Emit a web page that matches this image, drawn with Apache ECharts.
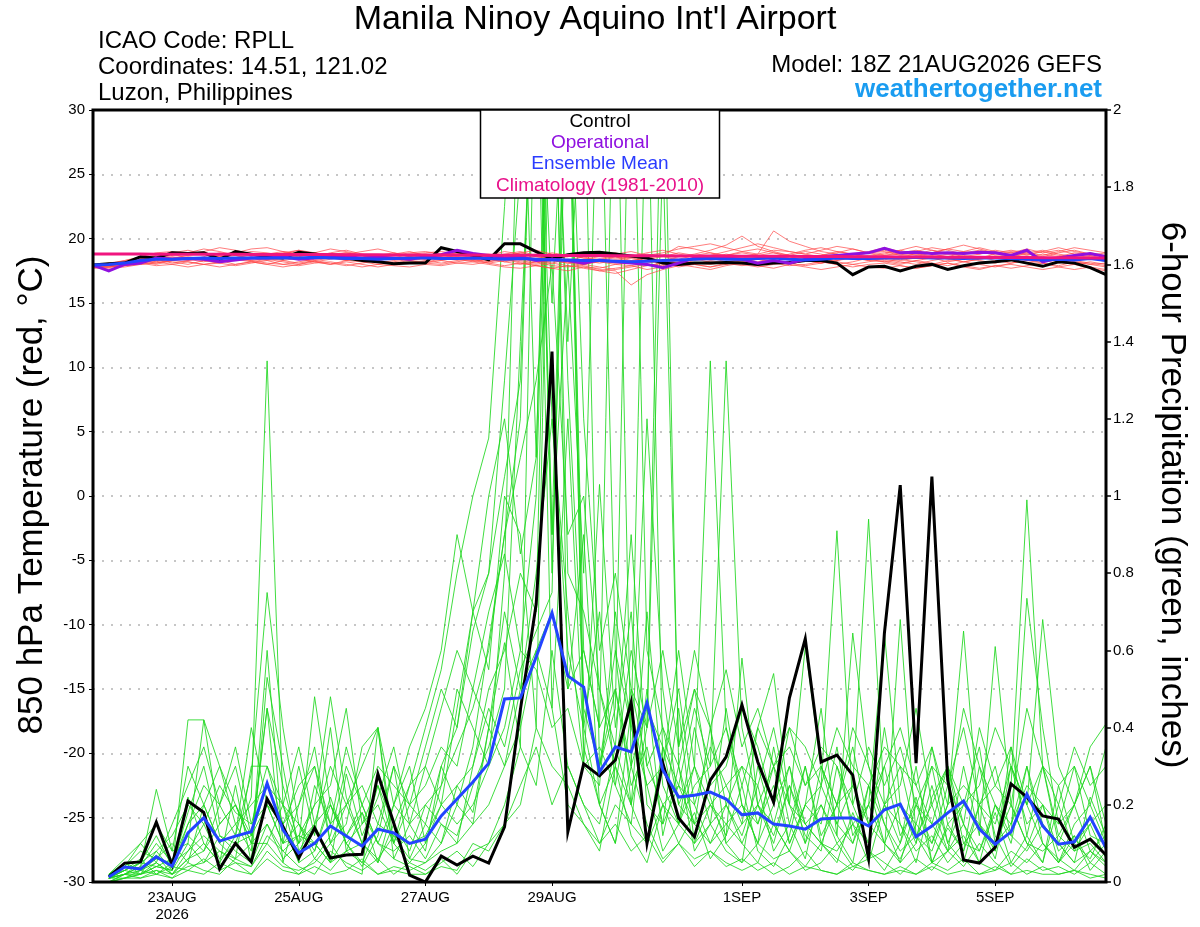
<!DOCTYPE html>
<html><head><meta charset="utf-8">
<script src="https://cdn.jsdelivr.net/npm/echarts@6/dist/echarts.min.js"></script>
<style>html,body{margin:0;padding:0;background:#fff}#c{width:1200px;height:927px}</style>
</head><body><div id="c"></div>
<script>
const FONT = '"Liberation Sans", Arial, Helvetica, sans-serif';

// ---- time axis (6-hourly, 21AUG2026 18Z .. 06SEP2026 18Z) ----
const MON = ['JAN','FEB','MAR','APR','MAY','JUN','JUL','AUG','SEP','OCT','NOV','DEC'];
const startUTC = Date.UTC(2026, 7, 21, 18);
const categories = [];
for (let i = 0; i < 65; i++) {
  const d = new Date(startUTC + i * 6 * 3600e3);
  categories.push(d.getUTCDate() + MON[d.getUTCMonth()] + String(d.getUTCHours()).padStart(2, '0') + 'Z');
}
const dateTicks = ['23AUG00Z', '25AUG00Z', '27AUG00Z', '29AUG00Z', '1SEP00Z', '3SEP00Z', '5SEP00Z'];
const dateTickLabels = ['23AUG\n2026', '25AUG', '27AUG', '29AUG', '1SEP', '3SEP', '5SEP'];

// ---- 850 hPa temperature (°C), 65 steps from 21AUG 18Z ----
const controlTemp = [17.95,
  18.05,18.1,18.6,18.5,18.9,18.85,18.9,18.4,19.0,18.8,
  18.6,18.5,18.95,18.8,18.6,18.5,18.3,18.2,18.05,18.1,
  18.1,19.3,19.0,18.7,18.35,19.6,19.6,19.0,18.42,18.75,
  18.9,18.95,18.8,18.65,18.5,18.1,18.0,18.1,18.1,18.15,
  18.1,18.0,18.1,18.15,18.3,18.3,18.1,17.2,17.8,17.85,
  17.5,17.85,18.0,17.6,17.9,18.1,18.2,18.35,18.1,17.85,
  18.2,18.1,17.75,17.2];
const operationalTemp = [17.95,
  17.5,18.0,18.1,18.5,18.4,18.45,18.4,18.2,18.35,18.5,
  18.5,18.6,18.4,18.5,18.55,18.6,18.5,18.55,18.5,18.4,
  18.6,18.75,19.1,18.85,18.7,18.5,18.6,18.3,18.4,18.3,
  18.1,18.35,18.2,18.1,18.0,17.75,18.1,18.5,18.6,18.5,
  18.4,18.1,18.3,18.1,18.4,18.6,18.7,18.8,18.9,19.25,
  18.9,18.95,18.85,18.9,18.85,18.95,18.9,18.7,19.1,18.2,
  18.5,18.7,18.85,18.6];
const meanTemp = [17.95,
  18.0,18.1,18.3,18.4,18.4,18.45,18.5,18.45,18.5,18.5,
  18.5,18.5,18.5,18.55,18.5,18.45,18.45,18.4,18.45,18.5,
  18.5,18.45,18.45,18.5,18.45,18.4,18.45,18.4,18.35,18.35,
  18.3,18.3,18.25,18.2,18.25,18.3,18.35,18.4,18.45,18.4,
  18.4,18.45,18.5,18.4,18.35,18.4,18.5,18.45,18.45,18.5,
  18.5,18.55,18.5,18.5,18.45,18.5,18.5,18.45,18.4,18.35,
  18.4,18.35,18.45,18.3];
const climoTemp = [18.80,
  18.80,18.80,18.80,18.79,18.79,18.79,18.78,18.78,18.78,18.77,
  18.77,18.77,18.76,18.76,18.76,18.75,18.75,18.75,18.74,18.74,
  18.74,18.73,18.73,18.73,18.72,18.72,18.71,18.71,18.70,18.70,
  18.69,18.69,18.68,18.68,18.67,18.67,18.66,18.66,18.65,18.65,
  18.64,18.64,18.63,18.63,18.62,18.62,18.61,18.60,18.60,18.59,
  18.58,18.58,18.57,18.56,18.56,18.55,18.54,18.54,18.53,18.52,
  18.52,18.51,18.50,18.50];

// ensemble member temperatures (65 steps)
const memberTemp01 = [17.85, 17.9,18.0,18.4,18.6,18.5,18.7,18.9,18.6,18.8,19.0, 18.9,18.7,18.6,18.8,18.5,18.4,18.6,18.7,18.9,18.6, 18.4,18.5,18.7,18.6,18.3,18.5,18.4,18.2,18.3,18.1, 18.4,18.6,18.8,19.0,18.7,18.9,19.2,19.4,19.6,19.3, 19.0,18.8,20.6,19.8,19.4,19.0,18.8,18.6,18.9,19.0, 18.7,18.8,19.1,18.9,18.6,18.8,19.0,18.7,18.5,18.8, 18.6,18.9,18.7,18.4];
const memberTemp02 = [17.75, 17.8,17.9,18.1,18.3,18.2,18.0,18.3,18.2,18.5,18.3, 18.1,18.0,18.2,18.4,18.6,18.3,18.2,18.0,18.2,18.4, 18.5,18.3,18.1,18.0,18.2,18.4,18.2,18.0,18.3,18.1, 17.9,17.6,17.5,16.4,17.2,17.6,17.9,18.1,18.0,18.2, 18.3,18.1,18.4,18.6,18.3,18.1,18.4,18.6,18.3,18.2, 18.0,18.3,18.5,18.2,18.4,18.6,18.3,18.1,18.3,18.5, 18.2,18.0,18.2,18.0];
const memberTemp03 = [17.95, 18.0,18.2,18.5,18.7,18.9,19.1,18.8,18.6,18.9,19.2, 19.3,19.0,18.8,18.6,18.9,19.1,18.8,18.6,18.5,18.8, 18.9,19.0,18.8,18.6,18.7,19.0,18.8,18.6,18.9,18.7, 18.5,18.4,18.6,18.5,18.8,18.6,18.4,18.7,18.9,18.6, 18.5,18.7,18.9,18.6,18.4,18.7,18.9,19.2,18.9,18.7, 18.8,19.0,19.3,19.1,18.8,19.0,18.7,18.9,19.2,18.9, 19.1,18.8,18.6,18.5];
const memberTemp04 = [17.7, 17.7,17.8,18.0,18.2,18.0,17.8,18.0,18.1,17.9,18.1, 18.3,18.0,17.9,18.1,18.2,18.0,17.8,18.0,17.9,17.8, 18.0,17.9,18.1,18.2,18.0,17.8,17.7,17.9,18.1,17.9, 17.8,17.7,18.0,18.2,17.9,18.1,18.3,18.0,17.8,18.0, 18.2,18.4,18.1,17.9,18.0,18.2,18.0,17.8,18.0,18.1, 17.9,17.7,17.9,18.1,17.8,17.6,17.9,18.0,17.8,17.6, 17.8,18.0,17.7,17.5];
const memberTemp05 = [17.95, 18.1,18.3,18.6,18.4,18.7,18.9,19.2,19.0,18.7,18.5, 18.8,19.0,18.8,18.6,18.8,18.9,18.7,18.5,18.8,19.0, 18.7,18.5,18.8,18.9,18.6,18.4,18.6,18.8,18.5,18.3, 18.6,18.8,18.6,18.3,18.5,18.7,19.4,19.2,18.9,18.7, 19.0,19.2,18.9,18.7,19.0,18.8,18.5,18.7,19.0,19.3, 19.0,18.7,18.9,19.2,19.0,18.8,19.1,18.9,18.7,19.0, 19.3,19.0,18.8,18.6];
const memberTemp06 = [17.8, 17.8,18.0,18.2,18.0,18.3,18.5,18.3,18.1,18.4,18.2, 18.0,18.3,18.5,18.2,18.0,18.3,18.5,18.3,18.1,18.3, 18.6,18.8,18.5,18.3,18.5,18.2,18.0,18.2,17.9,17.8, 18.0,18.2,18.0,17.9,18.1,18.3,18.1,18.4,18.2,18.0, 18.3,18.5,18.2,18.0,18.3,18.5,18.2,18.0,18.2,18.4, 18.2,18.0,18.3,18.5,18.2,18.4,18.6,18.3,18.1,18.3, 18.5,18.2,18.0,18.1];
const memberTemp07 = [17.85, 17.9,18.1,18.3,18.5,18.8,18.5,18.4,18.7,19.0,18.8, 18.6,18.4,18.6,18.9,19.2,19.0,18.7,18.5,18.4,18.6, 18.8,18.6,18.4,18.3,18.1,18.3,18.5,18.3,18.1,18.4, 18.3,18.1,18.3,18.5,18.3,18.0,18.2,18.5,18.7,19.0, 19.3,19.6,19.3,19.0,18.8,18.6,18.8,18.5,18.7,18.9, 19.1,18.8,18.6,18.8,19.0,19.3,19.0,18.7,18.9,19.1, 18.8,18.6,18.9,18.7];
const memberTemp08 = [17.75, 17.8,17.9,18.0,18.1,18.3,18.2,18.0,18.2,18.4,18.6, 18.4,18.2,18.0,18.3,18.1,17.9,18.1,18.3,18.5,18.3, 18.1,18.3,18.5,18.7,18.4,18.2,18.4,18.6,18.4,18.2, 18.0,17.8,17.6,17.8,18.0,17.9,18.2,18.0,17.8,18.1, 18.0,17.8,18.0,18.2,18.4,18.2,18.0,18.2,18.5,18.3, 18.1,18.3,18.1,17.9,18.2,18.0,17.8,18.1,18.3,18.1, 17.9,18.2,18.0,17.8];
const memberTemp09 = [17.9, 18.0,18.2,18.4,18.2,18.5,18.3,18.6,18.9,18.7,18.4, 18.7,18.9,19.1,18.8,18.6,18.8,19.0,19.2,18.9,18.7, 18.5,18.7,18.9,18.7,18.8,18.6,18.9,19.1,18.8,18.6, 18.8,18.6,18.4,18.6,18.9,19.1,18.8,18.6,18.4,18.7, 18.9,18.7,18.5,18.8,19.1,19.3,19.0,18.8,18.6,18.8, 19.1,19.4,19.1,18.8,18.7,18.5,18.8,19.0,18.8,18.6, 18.9,19.1,18.8,18.6];
const memberTemp10 = [17.85, 17.9,18.0,18.2,18.4,18.1,18.3,18.5,18.3,18.0,18.2, 18.4,18.6,18.4,18.2,18.4,18.6,18.4,18.1,18.3,18.5, 18.3,18.1,18.3,18.5,18.7,18.4,18.1,17.9,17.7,17.5, 17.8,17.5,17.3,17.6,17.9,18.1,17.8,18.0,18.3,18.1, 17.9,18.1,18.3,18.1,17.9,18.1,18.3,18.6,18.4,18.2, 18.4,18.2,18.0,18.3,18.5,18.3,18.1,18.4,18.6,18.3, 18.1,18.3,18.1,17.9];
const memberTemp11 = [17.9, 18.0,18.3,18.5,18.3,18.6,18.4,18.2,18.5,18.7,18.5, 18.3,18.5,18.7,18.9,18.7,18.5,18.3,18.5,18.8,18.6, 18.4,18.6,18.4,18.2,18.4,18.7,18.9,18.6,18.4,18.6, 18.9,18.7,18.5,18.7,18.5,18.3,18.6,18.8,19.1,19.5, 20.2,19.4,19.0,18.7,18.5,18.7,19.0,18.8,18.5,18.7, 18.9,19.1,18.8,18.6,18.9,19.1,18.9,18.6,18.8,19.0, 18.7,18.5,18.7,18.9];
const memberTemp12 = [17.8, 17.8,17.9,18.1,17.9,18.0,18.2,18.0,17.8,18.0,18.2, 18.0,17.8,18.0,18.2,18.0,18.2,18.0,17.8,18.0,18.2, 18.1,18.0,18.2,18.4,18.1,17.9,18.1,17.9,17.7,17.9, 17.7,17.5,17.7,17.9,17.6,17.8,18.0,17.8,17.6,17.9, 18.1,17.9,17.7,18.0,17.8,17.6,17.8,18.0,17.8,17.7, 17.9,17.7,17.9,18.1,17.9,17.7,17.9,17.7,17.9,18.1, 17.8,17.6,17.8,17.6];
const memberTemp13 = [17.95, 18.0,18.1,18.6,18.9,19.0,18.8,19.0,19.3,19.1,18.8, 18.6,18.8,19.1,18.9,18.7,18.9,18.7,18.5,18.7,18.9, 19.0,18.8,18.6,18.8,18.6,18.8,19.0,18.7,18.5,18.7, 18.5,18.7,18.9,18.6,18.4,18.6,18.9,18.7,18.5,18.8, 18.6,18.8,19.1,19.0,18.8,19.1,19.4,19.2,18.9,19.1, 18.8,18.6,18.9,19.2,19.5,19.2,18.9,19.1,18.9,18.7, 19.0,19.3,19.1,18.9];
const memberTemp14 = [17.85, 17.9,18.0,18.3,18.1,18.4,18.6,18.4,18.2,18.4,18.3, 18.5,18.3,18.1,18.3,18.5,18.3,18.5,18.7,18.5,18.3, 18.2,18.4,18.6,18.4,18.2,18.5,18.3,18.1,18.4,18.2, 18.0,18.3,18.1,18.3,18.5,18.2,18.0,18.3,18.5,18.2, 18.4,18.2,18.4,18.6,18.3,18.1,18.3,18.5,18.3,18.5, 18.3,18.5,18.7,18.4,18.2,18.4,18.6,18.8,18.5,18.3, 18.5,18.3,18.5,18.2];

// ---- 6-hour precipitation (inches), 64 periods ending 22AUG 00Z .. 6SEP 18Z ----
const controlPrecip = [
  0.013,0.049,0.052,0.155,0.044,0.21,0.18,0.034,0.10,0.052,
  0.215,0.143,0.062,0.14,0.062,0.07,0.072,0.28,0.153,0.018,
  0.0,0.067,0.044,0.067,0.049,0.143,0.446,0.72,1.374,0.13,
  0.306,0.275,0.316,0.466,0.10,0.308,0.166,0.117,0.264,0.324,
  0.459,0.311,0.207,0.477,0.63,0.311,0.329,0.277,0.062,0.645,
  1.028,0.308,1.05,0.264,0.057,0.049,0.09,0.254,0.22,0.171,
  0.163,0.09,0.111,0.07];
const meanPrecip = [
  0.013,0.039,0.034,0.065,0.041,0.127,0.166,0.106,0.119,0.13,
  0.256,0.135,0.075,0.10,0.145,0.119,0.093,0.137,0.127,0.10,
  0.111,0.171,0.215,0.259,0.308,0.474,0.477,0.583,0.697,0.534,
  0.505,0.285,0.35,0.337,0.464,0.29,0.22,0.225,0.233,0.215,
  0.174,0.179,0.15,0.145,0.137,0.163,0.166,0.166,0.145,0.187,
  0.202,0.117,0.145,0.179,0.21,0.137,0.098,0.13,0.228,0.145,
  0.098,0.104,0.168,0.088];

const memberPrecip01 = [0.01,0.03,0.05,0.12,0.04,0.18,0.30,0.12,0.10,0.22, 1.35,0.20,0.05,0.08,0.22,0.10,0.04,0.12,0.30,0.06, 0.05,0.10,0.25,0.18,0.40,0.62,0.35,2.30,0.45,0.20, 0.15,0.08,0.30,0.12,0.05,0.20,0.10,0.18,0.06,0.12, 0.25,0.08,0.04,0.12,0.30,0.10,0.05,0.18,0.08,0.03, 0.10,0.22,0.05,0.14,0.08,0.30,0.12,0.04,0.09,0.20, 0.05,0.12,0.03,0.08];
const memberPrecip02 = [0.00,0.02,0.04,0.24,0.08,0.10,0.42,0.30,0.15,0.08, 0.60,0.10,0.12,0.20,0.48,0.22,0.10,0.05,0.15,0.25, 0.40,0.55,0.80,1.00,1.15,1.75,2.40,1.10,2.60,0.50, 0.90,0.20,0.10,0.45,0.25,0.08,0.15,0.40,0.22,0.10, 0.05,0.30,0.15,0.08,0.20,0.45,0.12,0.05,0.25,0.10, 0.06,0.15,0.30,0.10,0.05,0.20,0.08,0.35,0.12,0.05, 0.20,0.08,0.15,0.06];
const memberPrecip03 = [0.02,0.05,0.02,0.08,0.03,0.42,0.42,0.15,0.20,0.12, 0.45,0.05,0.20,0.30,0.10,0.15,0.35,0.40,0.10,0.20, 0.15,0.30,0.20,0.35,0.62,0.90,1.20,2.50,0.80,2.20, 0.40,0.70,0.25,0.15,0.50,0.12,0.30,0.08,0.15,0.45, 0.20,0.10,0.35,0.15,0.06,0.25,0.91,0.20,0.10,0.40, 0.15,0.05,0.22,0.30,0.10,0.08,0.18,0.05,0.12,0.30, 0.10,0.05,0.22,0.12];
const memberPrecip04 = [0.01,0.01,0.03,0.05,0.02,0.06,0.10,0.05,0.25,0.05, 0.53,0.30,0.08,0.15,0.05,0.28,0.12,0.22,0.35,0.15, 0.30,0.20,0.45,0.70,0.55,1.00,0.90,0.40,2.40,1.40, 2.20,0.30,0.60,0.20,0.10,0.35,0.15,0.25,0.30,1.35, 0.40,0.20,0.10,0.25,0.12,0.08,0.30,0.15,0.05,0.20, 0.30,0.12,0.08,0.20,0.65,0.15,0.06,0.25,0.99,0.30, 0.12,0.20,0.08,0.05];
const memberPrecip05 = [0.00,0.01,0.02,0.04,0.06,0.12,0.08,0.20,0.35,0.15, 0.20,0.10,0.30,0.12,0.40,0.08,0.18,0.05,0.20,0.30, 0.10,0.25,0.50,0.40,0.30,0.80,2.30,2.40,1.20,0.70, 0.30,1.03,0.40,0.70,0.20,0.15,0.45,0.10,0.20,0.12, 0.58,0.20,0.15,0.30,0.10,0.20,0.12,0.645,0.30,0.15, 0.05,0.20,0.15,0.08,0.30,0.12,0.61,0.20,0.10,0.05, 0.25,0.10,0.06,0.15];
const memberPrecip06 = [0.02,0.04,0.08,0.06,0.10,0.05,0.20,0.10,0.06,0.30, 0.30,0.15,0.05,0.25,0.15,0.20,0.10,0.25,0.15,0.08, 0.20,0.15,0.10,0.30,0.50,0.60,0.80,0.70,2.50,2.30, 0.60,0.40,2.40,0.30,1.20,0.50,0.20,0.15,0.40,0.10, 0.15,0.40,0.54,0.20,0.10,0.30,0.15,0.25,0.94,0.20, 0.10,0.30,0.05,0.15,0.20,0.35,0.10,0.15,0.30,0.10, 0.05,0.15,0.20,0.10];
const memberPrecip07 = [0.01,0.02,0.01,0.03,0.02,0.04,0.05,0.08,0.05,0.04, 0.10,0.05,0.02,0.06,0.03,0.08,0.05,0.02,0.04,0.03, 0.05,0.08,0.10,0.15,0.20,0.30,0.40,0.60,0.45,1.20, 0.35,0.20,0.10,0.30,0.15,0.06,0.10,0.04,0.08,0.05, 0.03,0.05,0.02,0.04,0.08,0.03,0.02,0.05,0.03,0.02, 0.04,0.02,0.05,0.03,0.06,0.02,0.03,0.05,0.02,0.04, 0.02,0.03,0.01,0.02];
const memberPrecip08 = [0.01,0.03,0.06,0.02,0.05,0.22,0.10,0.05,0.12,0.28, 0.75,0.40,0.15,0.10,0.05,0.12,0.20,0.10,0.06,0.15, 0.08,0.30,0.40,0.70,0.80,1.30,1.85,2.50,0.90,1.60, 0.80,2.30,0.60,0.40,2.20,0.30,0.50,0.20,0.35,0.25, 0.30,0.15,0.25,0.10,0.20,0.15,0.35,0.12,0.20,0.645, 0.20,0.10,0.35,0.15,0.08,0.20,0.30,0.12,0.735,0.40, 0.15,0.30,0.12,0.10];
const memberPrecip09 = [0.02,0.06,0.10,0.05,0.15,0.25,0.35,0.20,0.30,0.12, 0.25,0.20,0.35,0.15,0.30,0.20,0.30,0.40,0.20,0.35, 0.45,0.60,0.90,0.70,1.00,1.20,0.85,1.10,2.50,1.30, 0.50,0.30,0.45,2.40,0.60,0.40,0.30,0.50,0.25,0.30, 0.45,0.35,0.20,0.40,0.25,0.30,0.20,0.35,0.15,0.30, 0.40,0.25,0.15,0.30,0.20,0.25,0.40,0.30,0.20,0.68, 0.30,0.20,0.35,0.41];
const memberPrecip10 = [0.00,0.01,0.02,0.03,0.01,0.05,0.03,0.02,0.06,0.04, 0.12,0.08,0.04,0.02,0.08,0.05,0.03,0.06,0.02,0.05, 0.03,0.06,0.02,0.08,0.10,0.20,0.35,0.25,0.60,0.30, 0.20,0.15,0.35,0.20,0.40,2.30,0.30,0.15,0.10,0.20, 0.10,0.05,0.15,0.08,0.04,0.10,0.06,0.03,0.08,0.05, 0.02,0.06,0.03,0.08,0.04,0.10,0.05,0.02,0.06,0.03, 0.04,0.02,0.05,0.02];
const memberPrecip11 = [0.01,0.02,0.04,0.10,0.05,0.15,0.20,0.30,0.20,0.10, 0.45,0.25,0.10,0.20,0.25,0.45,0.15,0.20,0.10,0.25, 0.30,0.45,0.60,0.50,0.70,0.85,0.60,1.00,2.40,0.80, 0.70,0.50,0.30,0.60,0.40,1.90,0.35,0.60,0.40,0.20, 0.30,0.25,0.40,0.20,0.61,0.30,0.20,0.40,0.30,0.20, 0.25,0.45,0.20,0.30,0.15,0.40,0.25,0.20,0.45,0.30, 0.20,0.35,0.25,0.30];
const memberPrecip12 = [0.01,0.05,0.03,0.07,0.02,0.08,0.15,0.06,0.10,0.12, 0.20,0.10,0.15,0.06,0.12,0.30,0.20,0.10,0.08,0.12, 0.06,0.15,0.12,0.25,0.35,0.50,1.40,2.30,0.90,2.40, 0.30,0.25,0.70,0.40,0.25,0.30,0.60,0.30,0.15,0.20, 0.12,0.25,0.08,0.15,0.30,0.12,0.20,0.10,0.25,0.15, 0.08,0.12,0.20,0.08,0.15,0.05,0.20,0.12,0.08,0.15, 0.10,0.05,0.08,0.12];
const memberPrecip13 = [0.02,0.03,0.02,0.04,0.03,0.10,0.05,0.12,0.08,0.05, 0.15,0.06,0.10,0.48,0.20,0.10,0.05,0.15,0.12,0.06, 0.15,0.10,0.20,0.15,0.40,0.30,0.50,0.80,1.20,0.60, 0.40,0.20,0.30,0.20,0.70,0.25,0.15,0.30,0.20,0.15, 0.20,0.10,0.20,0.30,0.15,0.10,0.08,0.15,0.10,0.20, 0.15,0.08,0.12,0.05,0.10,0.15,0.08,0.30,0.15,0.20, 0.08,0.12,0.05,0.10];
const memberPrecip14 = [0.01,0.04,0.10,0.15,0.08,0.30,0.20,0.10,0.15,0.20, 0.25,0.15,0.20,0.35,0.10,0.20,0.25,0.15,0.30,0.20, 0.25,0.35,0.30,0.50,0.40,0.70,0.50,0.60,0.70,0.50, 0.60,0.40,0.50,0.30,0.45,0.35,0.25,0.45,0.30,0.40, 0.25,0.40,0.30,0.35,0.25,0.35,0.30,0.20,0.35,0.25, 0.35,0.20,0.30,0.25,0.40,0.20,0.25,0.35,0.20,0.30, 0.25,0.30,0.20,0.35];
const memberPrecip15 = [0.00,0.02,0.03,0.02,0.04,0.03,0.06,0.03,0.05,0.02, 0.08,0.04,0.03,0.05,0.10,0.04,0.02,0.40,0.06,0.04, 0.02,0.05,0.08,0.04,0.10,0.15,0.20,0.40,0.30,0.25, 0.15,0.10,0.20,0.15,0.10,0.20,0.15,0.10,0.15,0.08, 0.05,0.10,0.06,0.08,0.03,0.05,0.10,0.04,0.06,0.08, 0.68,0.12,0.05,0.08,0.12,0.05,0.03,0.08,0.05,0.10, 0.06,0.03,0.08,0.04];
const memberPrecip16 = [0.01,0.03,0.05,0.08,0.12,0.20,0.15,0.25,0.18,0.15, 0.30,0.20,0.10,0.15,0.20,0.12,0.18,0.10,0.20,0.15, 0.20,0.25,0.35,0.45,0.60,0.90,1.10,1.30,1.60,0.90, 1.00,0.50,0.35,0.90,0.30,0.40,0.20,0.30,1.35,0.40, 0.20,0.15,0.30,0.10,0.20,0.25,0.15,0.10,0.20,0.30, 0.12,0.20,0.10,0.25,0.15,0.08,0.20,0.10,0.30,0.15, 0.10,0.20,0.30,0.15];
const memberPrecip17 = [0.02,0.04,0.03,0.06,0.05,0.08,0.12,0.08,0.06,0.10, 0.15,0.08,0.12,0.10,0.05,0.08,0.10,0.06,0.12,0.10, 0.12,0.20,0.25,0.30,0.45,0.35,0.55,0.65,0.75,2.40, 0.45,0.30,0.50,0.25,0.35,0.15,0.25,0.20,0.10,0.15, 0.10,0.20,0.12,0.25,0.15,0.20,0.10,0.15,0.20,0.10, 0.05,0.10,0.25,0.10,0.20,0.15,0.10,0.20,0.10,0.08, 0.12,0.08,0.10,0.05];
const memberPrecip18 = [0.00,0.01,0.01,0.02,0.01,0.03,0.02,0.05,0.03,0.02, 0.06,0.03,0.02,0.04,0.02,0.03,0.06,0.02,0.03,0.02, 0.02,0.04,0.03,0.10,0.08,0.15,0.25,0.35,0.20,0.30, 0.20,0.10,0.15,0.08,0.12,0.05,0.10,0.06,0.08,0.04, 0.06,0.03,0.05,0.02,0.04,0.03,0.02,0.04,0.03,0.02, 0.03,0.02,0.04,0.02,0.03,0.02,0.04,0.02,0.03,0.02, 0.02,0.03,0.02,0.01];
const memberPrecip19 = [0.01,0.02,0.05,0.04,0.03,0.15,0.25,0.20,0.12,0.40, 0.20,0.15,0.25,0.30,0.15,0.35,0.20,0.30,0.25,0.20, 0.35,0.50,0.40,0.65,0.80,1.05,1.30,2.40,1.50,2.30, 1.20,0.60,0.80,0.50,0.40,0.60,0.35,0.50,0.40,0.55, 0.35,0.45,0.30,0.40,0.35,0.25,0.40,0.30,0.25,0.35, 0.30,0.25,0.35,0.20,0.45,0.30,0.20,0.15,0.25,0.20, 0.15,0.20,0.30,0.10];
const memberPrecip20 = [0.01,0.02,0.02,0.05,0.02,0.06,0.08,0.15,0.20,0.10, 0.10,0.20,0.15,0.08,0.20,0.10,0.15,0.25,0.10,0.05, 0.10,0.20,0.15,0.20,0.30,0.40,0.60,0.55,0.40,0.45, 0.30,0.35,0.25,0.50,0.30,0.20,0.25,0.15,0.20,0.25, 0.15,0.20,0.30,0.20,0.15,0.10,0.20,0.25,0.15,0.10, 0.20,0.15,0.10,0.20,0.25,0.20,0.15,0.30,0.20,0.10, 0.05,0.10,0.15,0.20];

const memberTemps = [memberTemp01,memberTemp02,memberTemp03,memberTemp04,memberTemp05,memberTemp06,memberTemp07,
  memberTemp08,memberTemp09,memberTemp10,memberTemp11,memberTemp12,memberTemp13,memberTemp14];
const memberPrecips = [memberPrecip01,memberPrecip02,memberPrecip03,memberPrecip04,memberPrecip05,memberPrecip06,memberPrecip07,
  memberPrecip08,memberPrecip09,memberPrecip10,memberPrecip11,memberPrecip12,memberPrecip13,memberPrecip14,
  memberPrecip15,memberPrecip16,memberPrecip17,memberPrecip18,memberPrecip19,memberPrecip20];

// ---- styling / building ----
const precipData = a => [null].concat(a);  // precip has no value at the analysis time (21AUG 18Z)
function line(data, yAxisIndex, color, width, z) {
  return { type: 'line', data, yAxisIndex, symbol: 'none', silent: true, clip: true,
    lineStyle: { color, width, join: 'miter' }, z, animation: false };
}
const series = [];
memberPrecips.forEach(a => series.push(line(precipData(a), 1, 'rgba(30,215,30,0.85)', 1, 2)));
memberTemps.forEach(a => series.push(line(a, 0, 'rgba(255,70,70,0.7)', 1, 3)));
series.push(line(precipData(controlPrecip), 1, '#000000', 3, 5));
series.push(line(precipData(meanPrecip), 1, '#2244ff', 3, 6));
series.push(line(controlTemp, 0, '#000000', 3, 7));
series.push(line(operationalTemp, 0, '#8f10e0', 3, 8));
series.push(line(meanTemp, 0, '#2244ff', 3, 9));
series.push(line(climoTemp, 0, '#f0157f', 3, 10));

const isDateTick = (idx, val) => dateTicks.indexOf(val !== undefined ? val : categories[idx]) >= 0;

const option = {
  backgroundColor: '#ffffff',
  animation: false,
  grid: { left: 93, right: 94, top: 110, bottom: 45, show: true, borderColor: '#000', borderWidth: 3, backgroundColor: 'transparent', z: 20 },
  xAxis: {
    type: 'category', data: categories, boundaryGap: false, position: 'bottom',
    axisLine: { show: false, onZero: false },
    axisTick: { show: true, interval: isDateTick, length: 4, lineStyle: { color: '#000', width: 1 } },
    axisLabel: { interval: isDateTick, formatter: v => dateTickLabels[dateTicks.indexOf(v)] || '',
      color: '#000', fontFamily: FONT, fontSize: 15, lineHeight: 17, margin: 7 },
    splitLine: { show: false }
  },
  yAxis: [
    { type: 'value', min: -30, max: 30, interval: 5, position: 'left',
      axisLine: { show: false },
      axisTick: { show: true, length: 4, lineStyle: { color: '#000' } },
      axisLabel: { color: '#000', fontFamily: FONT, fontSize: 15, margin: 8 },
      splitLine: { show: true, lineStyle: { color: '#b4b4b4', width: 1.5, type: [2, 7] } } },
    { type: 'value', min: 0, max: 2, interval: 0.2, position: 'right',
      axisLine: { show: false },
      axisTick: { show: true, length: 5, lineStyle: { color: '#000', width: 1.5 } },
      axisLabel: { color: '#000', fontFamily: FONT, fontSize: 15, margin: 7,
        formatter: v => String(Math.round(v * 10) / 10) },
      splitLine: { show: false } }
  ],
  series,
  graphic: [
    { type: 'text', x: 595, y: 3, z: 100,
      style: { text: "Manila Ninoy Aquino Int'l Airport", font: '34px ' + FONT, fill: '#000', align: 'center' } },
    { type: 'text', x: 98, y: 29, z: 100, style: { text: 'ICAO Code: RPLL', font: '24px ' + FONT, fill: '#000' } },
    { type: 'text', x: 98, y: 55, z: 100, style: { text: 'Coordinates: 14.51, 121.02', font: '24px ' + FONT, fill: '#000' } },
    { type: 'text', x: 98, y: 81, z: 100, style: { text: 'Luzon, Philippines', font: '24px ' + FONT, fill: '#000' } },
    { type: 'text', x: 1102, y: 53, z: 100, style: { text: 'Model: 18Z 21AUG2026 GEFS', font: '24px ' + FONT, fill: '#000', align: 'right' } },
    { type: 'text', x: 1102, y: 77, z: 100, style: { text: 'weathertogether.net', font: 'bold 26px ' + FONT, fill: '#1a9cf0', align: 'right' } },
    // legend box
    { type: 'rect', z: 100, shape: { x: 480.5, y: 110, width: 239, height: 88 },
      style: { fill: '#fff', stroke: '#000', lineWidth: 1.5 } },
    { type: 'text', x: 600, y: 112, z: 101, style: { text: 'Control', font: '19px ' + FONT, fill: '#000', align: 'center' } },
    { type: 'text', x: 600, y: 133, z: 101, style: { text: 'Operational', font: '19px ' + FONT, fill: '#8f10e0', align: 'center' } },
    { type: 'text', x: 600, y: 154, z: 101, style: { text: 'Ensemble Mean', font: '19px ' + FONT, fill: '#2a3cff', align: 'center' } },
    { type: 'text', x: 600, y: 176, z: 101, style: { text: 'Climatology (1981-2010)', font: '19px ' + FONT, fill: '#e8118a', align: 'center' } },
    // axis titles
    { type: 'text', x: 32, y: 495, rotation: Math.PI / 2, z: 100,
      style: { text: '850 hPa Temperature (red, °C)', font: '35px ' + FONT, fill: '#000', align: 'center', verticalAlign: 'middle' } },
    { type: 'text', x: 1172, y: 495, rotation: -Math.PI / 2, z: 100,
      style: { text: '6-hour Precipitation (green, inches)', font: '35px ' + FONT, fill: '#000', align: 'center', verticalAlign: 'middle' } }
  ]
};
const chart = echarts.init(document.getElementById('c'), null, { renderer: 'canvas' });
chart.setOption(option);
</script>
</body></html>
